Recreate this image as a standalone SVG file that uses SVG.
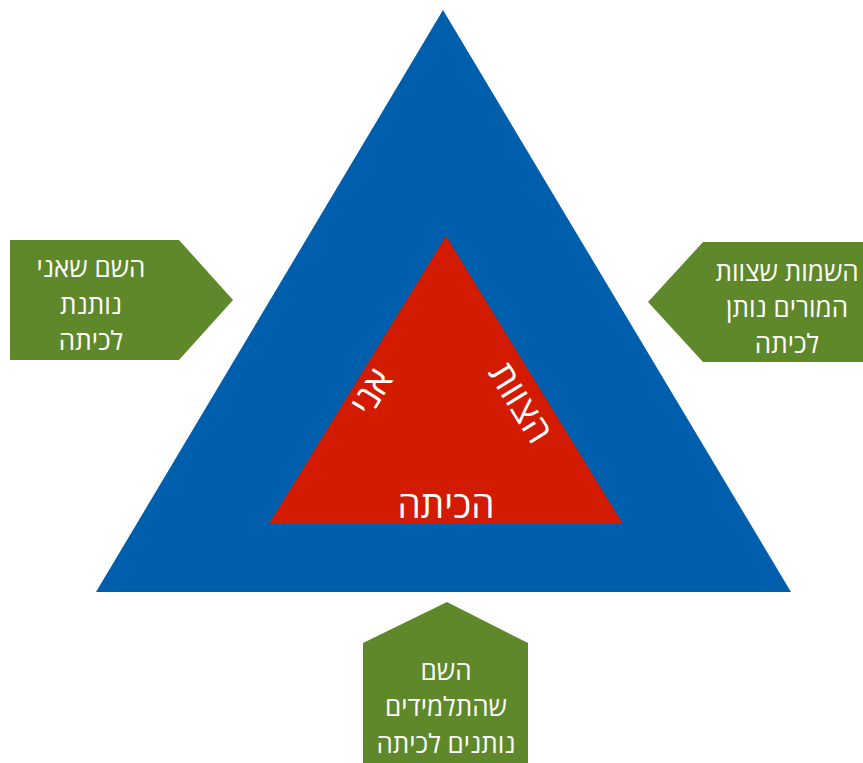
<svg xmlns="http://www.w3.org/2000/svg" width="863" height="763" viewBox="0 0 863 763">
<style>
.t{font-family:"Open Sans","DejaVu Sans","Liberation Sans",sans-serif;fill:#ffffff;text-anchor:middle}
.s{font-size:26px}
.b{font-size:37px}
.g{fill:#5E8829}
</style>
<rect width="863" height="763" fill="#ffffff"/>
<g id="outer">
<polygon points="443,10 791,592 96,592" fill="#005FAD"/>
</g>
<g id="inner">
<polygon points="446,236 623,524 269,524" fill="#D21B00"/>
<text class="t b" x="446" y="518">הכיתה</text>
<text class="t b" transform="translate(372,392) rotate(-58.4)" y="12">אני</text>
<text class="t b" transform="translate(520,403) rotate(58.4)" y="12">הצוות</text>
</g>
<g id="left-arrow">
<polygon class="g" points="10,240 179,240 233,300 179,360 10,360"/>
<text class="t s" x="91" y="277">השם שאני</text>
<text class="t s" x="91" y="314">נותנת</text>
<text class="t s" x="91" y="350">לכיתה</text>
</g>
<g id="right-arrow">
<polygon class="g" points="863,242 703,242 648,302 703,362 863,362"/>
<text class="t s" x="787" y="281">השמות שצוות</text>
<text class="t s" x="787" y="317">המורים נותן</text>
<text class="t s" x="787" y="353">לכיתה</text>
</g>
<g id="bottom-arrow">
<polygon class="g" points="447,602 528,643 528,763 363,763 363,643"/>
<text class="t s" x="446" y="680">השם</text>
<text class="t s" x="446" y="716">שהתלמידים</text>
<text class="t s" x="446" y="753">נותנים לכיתה</text>
</g>
<g id="connectors"></g>
</svg>
